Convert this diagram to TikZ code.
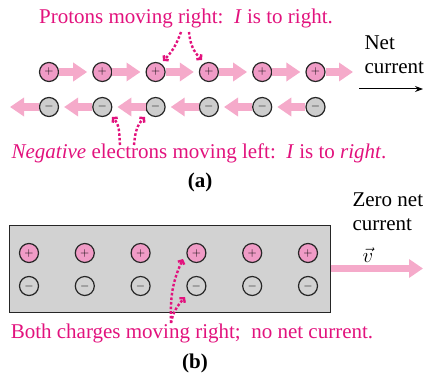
\documentclass[tikz,border=0pt]{standalone}
\usepackage{fontspec}
\setmainfont{Liberation Serif}
\usetikzlibrary{arrows.meta}
\definecolor{notemagenta}{RGB}{226,18,125}
\definecolor{flowpink}{RGB}{245,170,202}
\definecolor{protonpink}{RGB}{240,155,198}
\definecolor{electrongray}{RGB}{205,205,205}
\definecolor{wiregray}{RGB}{210,210,210}
\tikzset{
  proton/.style={circle, draw=black!85, line width=1.2pt, fill=protonpink, minimum size=19pt, inner sep=0pt, font=\fontsize{13}{13}\selectfont},
  electron/.style={proton, fill=electrongray},
  flow/.style={draw=flowpink, line width=7.5pt, -{Triangle[length=14pt,width=18pt]}},
  hint/.style={draw=notemagenta, line width=2.4pt, dash pattern=on 2.6pt off 2pt, -{Straight Barb[length=3pt,width=7pt]}},
  note/.style={text=notemagenta, font=\fontsize{21}{24}\selectfont},
  plain/.style={font=\fontsize{21}{24}\selectfont, align=left},
}

\begin{document}
\begin{tikzpicture}[x=1pt, y=1pt]
\useasboundingbox (0,0) rectangle (426,373);

% (a) protons and electrons in a wire
\node[note] (topnote) at (186,355) {Protons moving right:\ \ \textit{I} is to right.};
\node[proton] (p1) at (49,301) {$+$};
\node[proton] (p2) at (102.3,301) {$+$};
\node[proton] (p3) at (155.6,301) {$+$};
\node[proton] (p4) at (208.9,301) {$+$};
\node[proton] (p5) at (262.2,301) {$+$};
\node[proton] (p6) at (315.5,301) {$+$};
\node[electron] (e1) at (49,266) {$-$};
\node[electron] (e2) at (102.3,266) {$-$};
\node[electron] (e3) at (155.6,266) {$-$};
\node[electron] (e4) at (208.9,266) {$-$};
\node[electron] (e5) at (262.2,266) {$-$};
\node[electron] (e6) at (315.5,266) {$-$};
\coordinate (pright) at (353,301);
\coordinate (eleft) at (10,266);

\draw[flow] (p1.east) -- ([xshift=-5pt]p2.west);
\draw[flow] (p2.east) -- ([xshift=-5pt]p3.west);
\draw[flow] (p3.east) -- ([xshift=-5pt]p4.west);
\draw[flow] (p4.east) -- ([xshift=-5pt]p5.west);
\draw[flow] (p5.east) -- ([xshift=-5pt]p6.west);
\draw[flow] (p6.east) -- (pright);
\draw[flow] (e1.west) -- (eleft);
\draw[flow] (e2.west) -- ([xshift=5pt]e1.east);
\draw[flow] (e3.west) -- ([xshift=5pt]e2.east);
\draw[flow] (e4.west) -- ([xshift=5pt]e3.east);
\draw[flow] (e5.west) -- ([xshift=5pt]e4.east);
\draw[flow] (e6.west) -- ([xshift=5pt]e5.east);

\node[plain, anchor=west] (netlabel) at (361,318) {Net\\current};
\coordinate (netA) at (359,284);
\coordinate (netB) at (423,284);
\draw[line width=1pt, -{Stealth[length=8pt,width=6pt]}] (netA) -- (netB);

\coordinate (tA) at (181,341);
\coordinate (tB) at (189,341);
\draw[hint] (tA) to[out=-110, in=45] (163,312);
\draw[hint] (tB) to[out=-85, in=135] (202,313);

\node[note] (botnote) at (199,220) {\textit{Negative} electrons moving left:\ \ \textit{I} is to \textit{right}.};
\coordinate (bA) at (120,228);
\coordinate (bB) at (134,228);
\draw[hint] (bA) to[out=95, in=-45] (112,256);
\draw[hint] (bB) to[out=85, in=-135] (145,256);
\node[font=\fontsize{21}{24}\selectfont\bfseries] (capa) at (200,191) {(a)};

% (b) the whole wire moving right
\node[draw=black!85, line width=1pt, fill=wiregray, minimum width=321pt, minimum height=87pt] (wire) at (169.5,104.5) {};
\node[proton] (q1) at (29,120) {$+$};
\node[proton] (q2) at (84.8,120) {$+$};
\node[proton] (q3) at (140.6,120) {$+$};
\node[proton] (q4) at (196.4,120) {$+$};
\node[proton] (q5) at (252.2,120) {$+$};
\node[proton] (q6) at (308,120) {$+$};
\node[electron, fill=none] (f1) at (29,87) {$-$};
\node[electron, fill=none] (f2) at (84.8,87) {$-$};
\node[electron, fill=none] (f3) at (140.6,87) {$-$};
\node[electron, fill=none] (f4) at (196.4,87) {$-$};
\node[electron, fill=none] (f5) at (252.2,87) {$-$};
\node[electron, fill=none] (f6) at (308,87) {$-$};

\coordinate (vtip) at (423,104.5);
\draw[flow] (wire.east) -- (vtip);
\node[plain] (vlabel) at (368,118) {$\vec{v}$};
\node[plain, anchor=west] (zerolabel) at (349,161.5) {Zero net\\current};

\node[note] (wirenote) at (192,40) {Both charges moving right;\ \ no net current.};
\coordinate (wA) at (171,50);
\draw[hint] (wA) to[out=92, in=-115] (183,114);
\draw[hint] (wA) to[out=80, in=-130] (185,76);
\node[font=\fontsize{21}{24}\selectfont\bfseries] (capb) at (195,10) {(b)};
\end{tikzpicture}
\end{document}
